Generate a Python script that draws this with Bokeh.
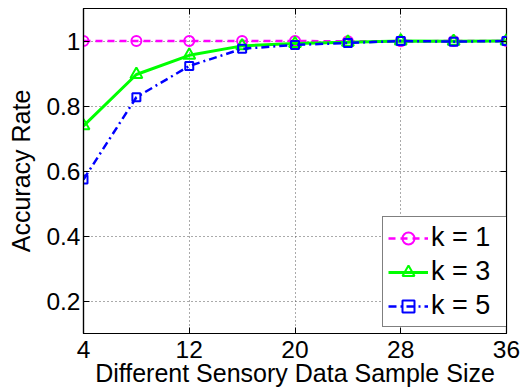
from bokeh.plotting import figure
from bokeh.models import LinearAxis, Range1d, FixedTicker, Legend, LegendItem
from bokeh.embed import file_html
from bokeh.resources import INLINE

sample_size = [4, 8, 12, 16, 20, 24, 28, 32, 36]
k1 = [1.0, 1.0, 1.0, 1.0, 1.0, 0.999, 0.999, 1.0, 1.0]
k3 = [0.739, 0.897, 0.956, 0.985, 0.992, 0.996, 1.0, 0.999, 1.0]
k5 = [0.574, 0.827, 0.923, 0.976, 0.988, 0.994, 1.0, 0.998, 1.0]
x_ticks = [4, 12, 20, 28, 36]
y_ticks = [0.2, 0.4, 0.6, 0.8, 1.0]
y_tick_labels = {0.2: "0.2", 0.4: "0.4", 0.6: "0.6", 0.8: "0.8", 1.0: "1"}

FONT = "Liberation Sans"

p = figure(width=524, height=390, output_backend="svg", toolbar_location=None,
           x_range=Range1d(4, 36), y_range=Range1d(0.1, 1.1),
           min_border_left=83, min_border_right=18, min_border_top=8, min_border_bottom=57,
           x_axis_label="Different Sensory Data Sample Size", y_axis_label="Accuracy Rate")
p.outline_line_color = "black"
p.outline_line_width = 1.2
p.background_fill_color = "white"
p.border_fill_color = "white"

for ax in (p.xaxis[0], p.yaxis[0]):
    ax.major_tick_in = 6
    ax.major_tick_out = 0
    ax.minor_tick_in = 0
    ax.minor_tick_out = 0
    ax.axis_line_color = "black"
    ax.axis_line_width = 1.2
    ax.major_label_text_font = FONT
    ax.major_label_text_font_size = "24.5px"
    ax.major_label_text_color = "black"
    ax.axis_label_text_font = FONT
    ax.axis_label_text_font_size = "25px"
    ax.axis_label_text_font_style = "normal"
    ax.axis_label_text_color = "black"

p.xaxis[0].ticker = FixedTicker(ticks=x_ticks)
p.yaxis[0].ticker = FixedTicker(ticks=y_ticks)
p.yaxis[0].major_label_overrides = y_tick_labels
p.xaxis[0].major_label_standoff = 7
p.xaxis[0].axis_label_standoff = -2
p.yaxis[0].major_label_standoff = 3
p.yaxis[0].axis_label_standoff = 8

# top and right ticks (labels left empty)
top = LinearAxis(ticker=FixedTicker(ticks=x_ticks),
                 major_label_overrides={t: "" for t in x_ticks},
                 major_tick_in=6, major_tick_out=0, minor_tick_in=0, minor_tick_out=0,
                 major_label_standoff=0, axis_line_color=None)
right = LinearAxis(ticker=FixedTicker(ticks=y_ticks),
                   major_label_overrides={t: "" for t in y_ticks},
                   major_tick_in=6, major_tick_out=0, minor_tick_in=0, minor_tick_out=0,
                   major_label_standoff=0, axis_line_color=None)
p.add_layout(top, "above")
p.add_layout(right, "right")

p.xgrid.ticker = FixedTicker(ticks=x_ticks)
p.ygrid.ticker = FixedTicker(ticks=y_ticks)
for g in (p.xgrid[0], p.ygrid[0]):
    g.grid_line_color = "#555555"
    g.grid_line_dash = "1 3"
    g.grid_line_width = 1

l1 = p.line(sample_size, k1, line_color="#FF00FF", line_width=2.5, line_dash="7 5")
m1 = p.scatter(sample_size, k1, marker="circle", size=10, fill_color=None,
               line_color="#FF00FF", line_width=2)
l3 = p.line(sample_size, k3, line_color="#00FF00", line_width=3)
m3 = p.scatter(sample_size, k3, marker="triangle", size=12, fill_color=None,
               line_color="#00FF00", line_width=2)
l5 = p.line(sample_size, k5, line_color="#0000FF", line_width=2.5, line_dash="8 4 2 4")
m5 = p.scatter(sample_size, k5, marker="square", size=8, fill_color=None,
               line_color="#0000FF", line_width=2)

legend = Legend(items=[
    LegendItem(label="k = 1", renderers=[l1, m1]),
    LegendItem(label="k = 3", renderers=[l3, m3]),
    LegendItem(label="k = 5", renderers=[l5, m5]),
], location=(299, 6))
legend.label_text_font = FONT
legend.label_text_font_size = "27px"
legend.label_text_color = "black"
legend.glyph_width = 40
legend.glyph_height = 30
legend.label_width = 72
legend.spacing = 3
legend.padding = 5
legend.margin = 0
legend.label_standoff = 3
legend.border_line_color = "black"
legend.border_line_width = 1.2
legend.background_fill_alpha = 1
p.add_layout(legend)

open("out.html", "w").write(file_html(p, INLINE))
